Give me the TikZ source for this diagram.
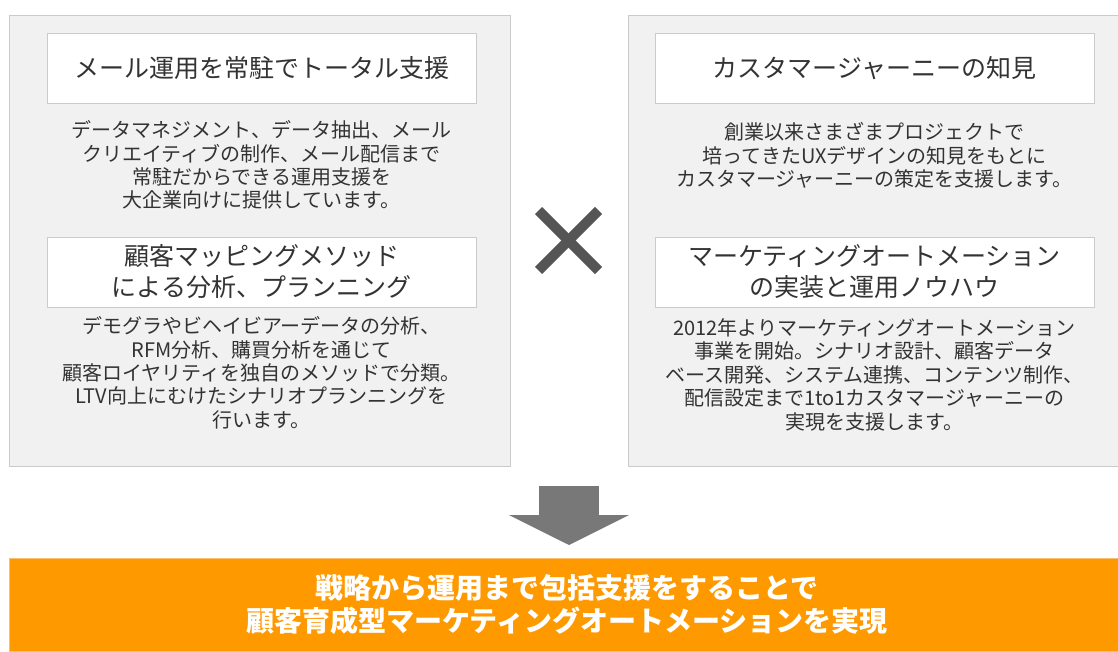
\documentclass[tikz,border=0pt]{standalone}
\usepackage{fontspec}
\setmainfont{Noto Sans CJK JP}
\usetikzlibrary{arrows.meta, positioning}
\definecolor{panelgray}{HTML}{F1F1F1}
\definecolor{linegray}{HTML}{CBCBCB}
\definecolor{textgray}{HTML}{333333}
\definecolor{crossgray}{HTML}{555555}
\definecolor{arrowgray}{HTML}{787878}
\definecolor{goalorange}{HTML}{FF9900}
\tikzstyle{panel} = [rectangle, anchor=north west, draw=linegray, fill=panelgray, line width=1.2pt, minimum width=501pt, minimum height=451pt]
\tikzstyle{headbox} = [rectangle, draw=linegray, fill=white, line width=1pt, minimum width=429pt, minimum height=70pt, text centered, align=center, text=textgray, font=\fontsize{25}{31}\selectfont]
\tikzstyle{desc} = [align=center, inner sep=0pt, text=textgray, font=\fontsize{20}{23.4}\selectfont]
\tikzstyle{crossmark} = [minimum size=60pt, inner sep=0pt, outer sep=0pt]
\tikzstyle{crossline} = [line width=10pt, draw=crossgray]
\tikzstyle{goalbar} = [rectangle, anchor=north west, fill=goalorange, draw=goalorange!80!brown!60, line width=0.8pt, minimum width=1115pt, minimum height=93pt, align=center, text=white, font=\fontsize{28}{33}\selectfont\bfseries]
\tikzstyle{bigarrow} = [line width=60pt, draw=arrowgray, -{Triangle[width=119pt, length=30pt]}]

\begin{document}
\begin{tikzpicture}[x=1pt, y=-1pt]
\useasboundingbox (0,0) rectangle (1118,651);

\node (lpanel) [panel] at (9,15) {};
\node (rpanel) [panel] at (628,15) {};

\node (lhead1) [headbox] at (261.5,68) {メール運用を常駐でトータル支援};
\node (ldesc1) [desc, below=17pt of lhead1] {データマネジメント、データ抽出、メール\\クリエイティブの制作、メール配信まで\\常駐だからできる運用支援を\\大企業向けに提供しています。};
\node (lhead2) [headbox] at (261.5,272) {顧客マッピングメソッド\\による分析、プランニング};
\node (ldesc2) [desc, below=9pt of lhead2] {デモグラやビヘイビアーデータの分析、\\RFM分析、購買分析を通じて\\顧客ロイヤリティを独自のメソッドで分類。\\LTV向上にむけたシナリオプランニングを\\行います。};

\node (rhead1) [headbox, minimum width=439pt] at (874.5,68) {カスタマージャーニーの知見};
\node (rdesc1) [desc, below=19pt of rhead1] {創業以来さまざまプロジェクトで\\培ってきたUXデザインの知見をもとに\\カスタマージャーニーの策定を支援します。};
\node (rhead2) [headbox, minimum width=439pt] at (874.5,272) {マーケティングオートメーション\\の実装と運用ノウハウ};
\node (rdesc2) [desc, below=11pt of rhead2] {2012年よりマーケティングオートメーション\\事業を開始。シナリオ設計、顧客データ\\ベース開発、システム連携、コンテンツ制作、\\配信設定まで1to1カスタマージャーニーの\\実現を支援します。};

\node (cross) [crossmark] at (568.5,240.5) {};
\draw [crossline] (cross.north west) -- (cross.south east);
\draw [crossline] (cross.south west) -- (cross.north east);

\node (goal) [goalbar] at (9,558) {戦略から運用まで包括支援をすることで\\顧客育成型マーケティングオートメーションを実現};

\coordinate (arrtop) at (569,486);
\draw [bigarrow, shorten >=13pt] (arrtop) -- (arrtop |- goal.north);

\end{tikzpicture}
\end{document}
